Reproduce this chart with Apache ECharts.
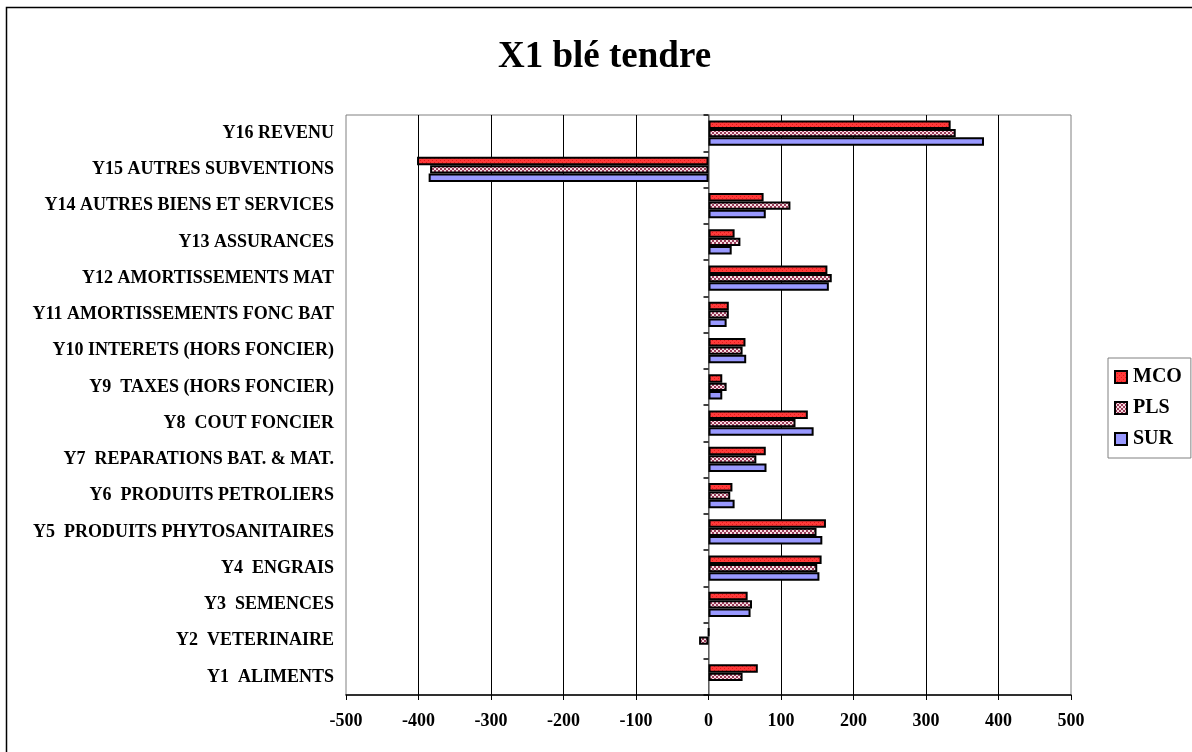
<!DOCTYPE html>
<html>
<head>
<meta charset="utf-8">
<script src="https://cdn.jsdelivr.net/npm/echarts@6/dist/echarts.min.js"></script>
<style>html,body{margin:0;padding:0;background:#fff;}#c{width:1192px;height:752px;}</style>
</head>
<body>
<div id="c"></div>
<script>
const categories = ["Y1  ALIMENTS","Y2  VETERINAIRE","Y3  SEMENCES","Y4  ENGRAIS","Y5  PRODUITS PHYTOSANITAIRES","Y6  PRODUITS PETROLIERS","Y7  REPARATIONS BAT. & MAT.","Y8  COUT FONCIER","Y9  TAXES (HORS FONCIER)","Y10 INTERETS (HORS FONCIER)","Y11 AMORTISSEMENTS FONC BAT","Y12 AMORTISSEMENTS MAT","Y13 ASSURANCES","Y14 AUTRES BIENS ET SERVICES","Y15 AUTRES SUBVENTIONS","Y16 REVENU"];
const MCO = [68, 0.3, 54, 156, 162, 33, 79, 137, 19, 51, 28, 164, 36, 76, -402, 334];
const PLS = [47, -13, 60, 150, 149, 30, 66, 120, 25, 47, 28, 170, 44, 113, -384, 341];
const SUR = [null, null, 58, 153, 157, 36, 80, 145, 19, 52, 25, 166, 32, 79, -386, 380];
const xTicks = [-500, -400, -300, -200, -100, 0, 100, 200, 300, 400, 500];

function makePattern(draw) {
  const cv = document.createElement('canvas');
  cv.width = 4; cv.height = 4;
  const ctx = cv.getContext('2d');
  draw(ctx);
  return { image: cv, repeat: 'repeat' };
}
const mcoPat = makePattern(ctx => {
  ctx.fillStyle = '#ff3a3a'; ctx.fillRect(0,0,4,4);
  ctx.fillStyle = '#e01818'; ctx.fillRect(0,0,1,1); ctx.fillRect(2,2,1,1);
});
const plsPat = makePattern(ctx => {
  ctx.fillStyle = '#f6dde2'; ctx.fillRect(0,0,4,4);
  ctx.fillStyle = '#9a3a58'; ctx.fillRect(0,0,2,2); ctx.fillRect(2,2,2,2);
});

const font = '"Liberation Serif", "Times New Roman", serif';
const chart = echarts.init(document.getElementById('c'), null, {renderer: 'canvas'});
const barStyle = (c) => ({ color: c, borderColor: '#000', borderWidth: 2 });
chart.setOption({
  animation: false,
  backgroundColor: '#fff',
  title: {
    text: 'X1 blé tendre', left: 493, top: 34,
    textStyle: { fontFamily: font, fontWeight: 'bold', fontSize: 37, color: '#000' }
  },
  graphic: [{
    type: 'rect', shape: { x: 6.5, y: 7.5, width: 1200, height: 800 },
    style: { fill: 'none', stroke: '#000', lineWidth: 1.5 }, silent: true
  }],
  legend: {
    orient: 'vertical', left: 1108, top: 358,
    data: ['MCO', 'PLS', 'SUR'],
    icon: 'rect',
    itemWidth: 12, itemHeight: 12, itemGap: 11,
    padding: [9, 9, 9, 6],
    borderColor: '#808080', borderWidth: 1,
    textStyle: { fontFamily: font, fontWeight: 'bold', fontSize: 20, color: '#000', padding: [0,0,0,1] }
  },
  grid: { left: 346, right: 121, top: 115, bottom: 57, show: true, borderColor: '#808080', borderWidth: 1 },
  xAxis: {
    type: 'value', min: -500, max: 500, interval: 100,
    axisLine: { show: true, onZero: false, lineStyle: { color: '#000', width: 1.5 } },
    axisTick: { show: true, length: 5, lineStyle: { color: '#000' } },
    axisLabel: { fontFamily: font, fontWeight: 'bold', fontSize: 18, color: '#000', margin: 17,
      formatter: v => xTicks.includes(v) ? String(v) : '' },
    splitLine: { show: true, showMinLine: false, showMaxLine: false, lineStyle: { color: '#000', width: 1 } }
  },
  yAxis: [{
    type: 'category', data: categories, position: 'left',
    axisLine: { show: false, onZero: false },
    axisTick: { show: false },
    axisLabel: { fontFamily: font, fontWeight: 'bold', fontSize: 18, color: '#000', margin: 12 }
  }, {
    type: 'category', data: categories, position: 'left',
    axisLine: { show: true, onZero: true, lineStyle: { color: '#808080', width: 1.5 } },
    axisTick: { show: true, length: 5, lineStyle: { color: '#000', width: 1.5 } },
    axisLabel: { show: false }
  }],
  series: [
    { name: 'MCO', type: 'bar', yAxisIndex: 0, data: MCO, itemStyle: barStyle(mcoPat), barGap: '0%', barCategoryGap: '30%' },
    { name: 'PLS', type: 'bar', yAxisIndex: 0, data: PLS, itemStyle: barStyle(plsPat), barGap: '0%', barCategoryGap: '30%' },
    { name: 'SUR', type: 'bar', yAxisIndex: 0, data: SUR, itemStyle: barStyle('#9999ff'), barGap: '0%', barCategoryGap: '30%' }
  ]
});
</script>
</body>
</html>
